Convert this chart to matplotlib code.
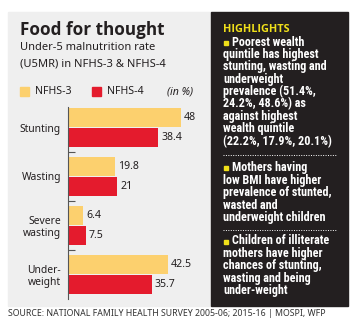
import matplotlib.pyplot as plt
import matplotlib.patches as mpatches
from matplotlib import font_manager

categories = ['Stunting', 'Wasting', 'Severe\nwasting', 'Under-\nweight']
nfhs3 = [48, 19.8, 6.4, 42.5]
nfhs4 = [38.4, 21, 7.5, 35.7]
series_names = ['NFHS-3', 'NFHS-4']

highlights = [
    ['Poorest wealth', 'quintile has highest', 'stunting, wasting and',
     'underweight', 'prevalence (51.4%,', '24.2%, 48.6%) as',
     'against highest', 'wealth quintile', '(22.2%, 17.9%, 20.1%)'],
    ['Mothers having', 'low BMI have higher', 'prevalence of stunted,',
     'wasted and', 'underweight children'],
    ['Children of illiterate', 'mothers have higher', 'chances of stunting,',
     'wasting and being', 'under-weight'],
]

W, H = 359, 329
YEL = '#fcd06e'
RED = '#e41b2d'
DARK = '#231f20'
HL = '#f0e01a'
TXT = '#231f20'

fonts = font_manager.fontManager.ttflist
names = {f.name for f in fonts}


def has_bold(name):
    return any(f.name == name and f.weight in (600, 700, 800, 'bold', 'semibold') for f in fonts)


def pick(cands, bold=False):
    for c in cands:
        if c in names and (not bold or has_bold(c)):
            return c
    return 'DejaVu Sans'


FONT = pick(['Noto Sans', 'Open Sans'])
BOLD = pick(['Noto Sans', 'Open Sans', 'Lato', 'Roboto'], bold=True)
NARROW = pick(['Liberation Sans Narrow', 'Roboto Condensed', 'Lato', 'Roboto'], bold=True)
plt.rcParams['font.family'] = [FONT, 'DejaVu Sans']


def fx(x):
    return x / W


def fy(y):
    return 1 - y / H


fig = plt.figure(figsize=(W / 100, H / 100), dpi=100)
fig.patch.set_facecolor('white')

# panels
fig.patches.append(mpatches.Rectangle((fx(8), fy(306)), fx(211) - fx(8), fy(12) - fy(306),
                                      transform=fig.transFigure, color='#efefef', zorder=0))
fig.patches.append(mpatches.Rectangle((fx(211), fy(306)), fx(348) - fx(211), fy(12) - fy(306),
                                      transform=fig.transFigure, color=DARK, zorder=0))

# title block
fig.text(fx(20), fy(30), 'Food for thought', fontsize=12.3, fontweight='bold', color=TXT,
         family=[BOLD, 'DejaVu Sans'], va='center')
fig.text(fx(20), fy(48), 'Under-5 malnutrition rate', fontsize=8, color=TXT, va='center')
fig.text(fx(20), fy(64), '(U5MR) in NFHS-3 & NFHS-4', fontsize=8, color=TXT, va='center')

# legend
for sx, col, name in [(20, YEL, series_names[0]), (92, RED, series_names[1])]:
    fig.patches.append(mpatches.Rectangle((fx(sx), fy(96)), fx(9), fy(0) - fy(9),
                                          transform=fig.transFigure, color=col))
    fig.text(fx(sx + 15), fy(92), name, fontsize=7.6, color=TXT, va='center')
fig.text(fx(167), fy(92), '(in %)', fontsize=7.6, style='italic', color=TXT, va='center')

# chart
ax = fig.add_axes([fx(68), fy(299), fx(208) - fx(68), fy(107) - fy(299)])
ax.set_zorder(3)
ax.set_facecolor('none')
ypos = range(len(categories))
h = 0.39
ax.barh([y - 0.205 for y in ypos], nfhs3, height=h, color=YEL)
ax.barh([y + 0.205 for y in ypos], nfhs4, height=h, color=RED)
for y, a, b in zip(ypos, nfhs3, nfhs4):
    ax.text(a + 1.3, y - 0.205, f'{a:g}', fontsize=7.6, color=TXT, va='center')
    ax.text(b + 1.3, y + 0.205, f'{b:g}', fontsize=7.6, color=TXT, va='center')
ax.set_xlim(0, 140 / 2.35)
ax.set_ylim(3.51, -0.42)
ax.set_xticks([])
ax.set_yticks(list(ypos))
ax.set_yticklabels(categories, fontsize=7.4, color=TXT, linespacing=1.15)
ax.set_yticks([0.5, 1.5, 2.5], minor=True)
ax.tick_params(axis='y', which='major', length=0, pad=5)
ax.tick_params(axis='y', which='minor', direction='in', length=5, width=0.8, color='#555555')
for s in ['top', 'right', 'bottom']:
    ax.spines[s].set_visible(False)
ax.spines['left'].set_color('#555555')
ax.spines['left'].set_linewidth(0.8)

# highlights
fig.text(fx(223), fy(30), 'HIGHLIGHTS', fontsize=7.8, fontweight='bold', color=HL,
         family=[BOLD, 'DejaVu Sans'], va='center')
starts = [42, 168, 241]
pitch = 12.4
for start, para in zip(starts, highlights):
    fig.patches.append(mpatches.Rectangle((fx(224), fy(start + 2.5)), fx(4), fy(0) - fy(4),
                                          transform=fig.transFigure, color=HL))
    for i, line in enumerate(para):
        x = 232 if i == 0 else 223
        fig.text(fx(x), fy(start + i * pitch), line, fontsize=8.7, fontweight='bold',
                 color='white', family=[NARROW, 'DejaVu Sans'], va='center')
for ysep in [155, 230]:
    fig.add_artist(plt.Line2D([fx(223), fx(336)], [fy(ysep), fy(ysep)], color='white',
                              linewidth=0.7, linestyle=(0, (1, 1.5)), transform=fig.transFigure))

fig.text(fx(8), fy(313), 'SOURCE: NATIONAL FAMILY HEALTH SURVEY 2005-06; 2015-16 | MOSPI, WFP',
         fontsize=6.3, color='#333333', va='center')

fig.savefig('out.png', dpi=100)
